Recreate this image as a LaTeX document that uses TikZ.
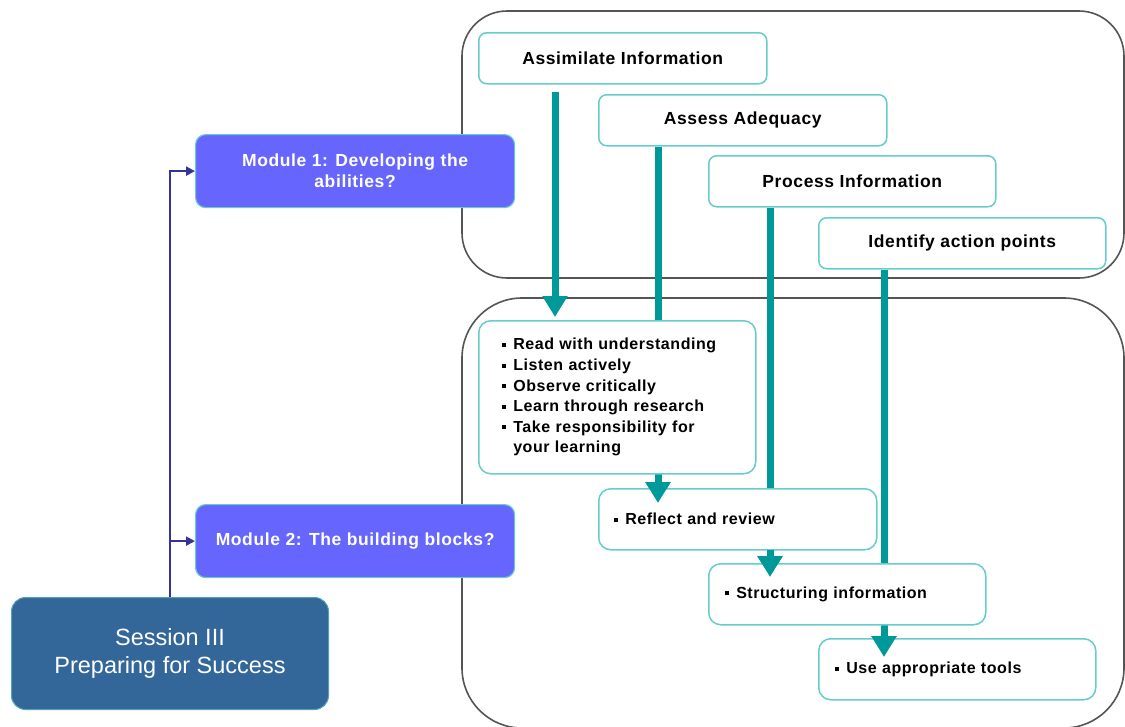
\documentclass[tikz,border=0pt]{standalone}
\usepackage{fontspec}
\setmainfont{Liberation Sans}
\newfontfamily\bsf[LetterSpace=3.5]{Liberation Sans}
\usetikzlibrary{arrows.meta,calc}
\definecolor{tealb}{HTML}{66CCCC}
\definecolor{tealarr}{HTML}{009999}
\definecolor{modfill}{HTML}{6666FF}
\definecolor{sessfill}{HTML}{336699}
\definecolor{navyc}{HTML}{333399}
\definecolor{framec}{HTML}{555555}
\newcommand{\sqb}{\rule[0.18em]{4pt}{4pt}}
\pgfdeclarelayer{bg}
\pgfsetlayers{bg,main}
\begin{document}
\begin{tikzpicture}[x=1pt,y=-1pt,
  bigframe/.style={draw=framec,line width=1.6pt},
  hbox/.style={draw=tealb,line width=1.5pt,fill=white,rounded corners=8pt,anchor=north west,inner sep=0pt,
    font=\bsf\bfseries\fontsize{17.5}{21}\selectfont},
  lbox/.style={draw=tealb,line width=1.5pt,fill=white,rounded corners=12pt,anchor=north west,inner ysep=0pt,
    align=left,font=\bsf\bfseries\fontsize{16}{20.6}\selectfont},
  modbox/.style={draw=tealb,line width=1.2pt,fill=modfill,rounded corners=10pt,anchor=north west,inner sep=0pt,
    minimum width=319,minimum height=73,align=center,text=white,font=\bsf\bfseries\fontsize{17.5}{21}\selectfont},
  sessbox/.style={draw=tealb!60!sessfill,line width=1pt,fill=sessfill,rounded corners=14pt,anchor=north west,inner sep=0pt,
    minimum width=317,minimum height=112,align=center,text=white,font=\fontsize{23.5}{28}\selectfont},
  tarrow/.style={draw=tealarr,line width=7pt,-{Triangle[length=21pt,width=24pt]}},
  navyline/.style={draw=navyc,line width=2pt},
  navyarrow/.style={navyline,-{Triangle[length=9pt,width=9pt]}}
]
\useasboundingbox (0,0) rectangle (1125,726);

% header boxes
\node[hbox,minimum width=288,minimum height=51] (ai) at (478,32) {Assimilate Information};
\node[hbox,minimum width=288,minimum height=51] (ad) at (598,94) {Assess Adequacy};
\node[hbox,minimum width=287,minimum height=51] (pi) at (708,155) {Process Information};
\node[hbox,minimum width=287,minimum height=51] (ia) at (818,217) {Identify action points};

% lower boxes
\node[lbox,minimum height=153,inner xsep=23pt,text width=231pt] (rd) at (478,320) {%
  \begin{tabular}{@{}l@{\hspace{7.5pt}}l@{}}
  \sqb & Read with understanding\\
  \sqb & Listen actively\\
  \sqb & Observe critically\\
  \sqb & Learn through research\\
  \sqb & Take responsibility for\\
       & your learning
  \end{tabular}};
\node[lbox,minimum height=61,inner xsep=15pt,text width=248pt] (rf) at (598,488) {\sqb\hspace{7.5pt}Reflect and review};
\node[lbox,minimum height=61,inner xsep=16pt,text width=245pt] (st) at (708,563) {\sqb\hspace{7.5pt}Structuring information};
\node[lbox,minimum height=61,inner xsep=16pt,text width=245pt] (ut) at (818,638) {\sqb\hspace{7.5pt}Use appropriate tools};

% modules and session
\node[modbox] (m1) at (195,134) {Module 1: Developing the\\abilities?};
\node[modbox] (m2) at (195,504) {Module 2: The building blocks?};
\node[sessbox] (ss) at (11,597) {\raisebox{-3pt}{\parbox{300pt}{\centering Session III\\Preparing for Success}}};

% arrow coordinates
\coordinate (a1s) at ($(ai.south west)+(77,7)$);
\coordinate (a1e) at ($(a1s |- rd.north)+(0,-3)$);
\coordinate (a2s) at ($(ad.south west)+(60,0)$);
\coordinate (a2e) at ($(a2s |- rf.north)+(0,15)$);
\coordinate (a3s) at ($(pi.south west)+(62,0)$);
\coordinate (a3e) at ($(a3s |- st.north)+(0,14)$);
\coordinate (a4s) at ($(ia.south west)+(66,0)$);
\coordinate (a4e) at ($(a4s |- ut.north)+(0,19)$);

\begin{pgfonlayer}{bg}
  \draw[bigframe,rounded corners=45pt] (462,11) rectangle (1124,278);
  \draw[bigframe,rounded corners=60pt] (462,298) rectangle (1124,728);
  \draw[tarrow] (a1s) -- (a1e);
  \draw[tarrow] (a2s) -- (a2e);
  \draw[tarrow] (a3s) -- (a3e);
  \draw[tarrow] (a4s) -- (a4e);
  \draw[navyarrow] (ss.north) -- (ss.north |- m1.west) -- (m1.west);
  \draw[navyarrow] (ss.north |- m2.west) -- (m2.west);
\end{pgfonlayer}

% arrow heads over their target boxes
\draw[tarrow] ($(a2e)+(0,-27)$) -- (a2e);
\draw[tarrow] ($(a3e)+(0,-27)$) -- (a3e);
\draw[tarrow] ($(a4e)+(0,-27)$) -- (a4e);
\end{tikzpicture}
\end{document}
